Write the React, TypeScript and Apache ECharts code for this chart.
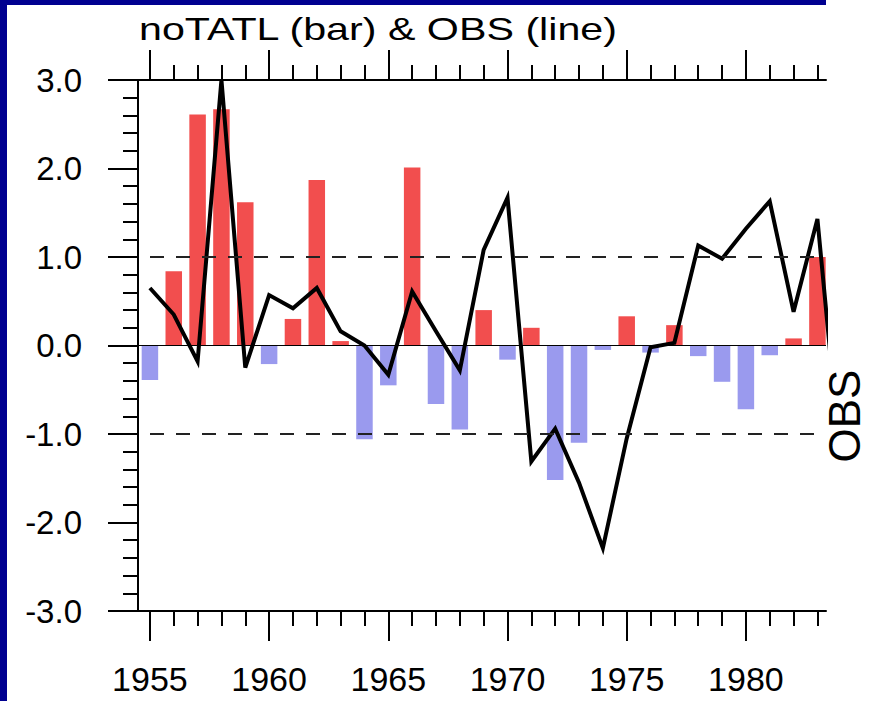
import React, { useEffect, useRef } from "react";
import * as echarts from "echarts";

// ---- data ----
const barYears = [
  1955, 1956, 1957, 1958, 1959, 1960, 1961, 1962, 1963, 1964,
  1965, 1966, 1967, 1968, 1969, 1970, 1971, 1972, 1973, 1974,
  1975, 1976, 1977, 1978, 1979, 1980, 1981, 1982, 1983,
];
const noTATL = [
  -0.39, 0.84, 2.61, 2.67, 1.62, -0.21, 0.3, 1.87, 0.05, -1.06,
  -0.45, 2.01, -0.66, -0.95, 0.4, -0.16, 0.2, -1.52, -1.1, -0.05,
  0.33, -0.08, 0.23, -0.12, -0.41, -0.72, -0.11, 0.08, 1.0,
];
const lineYears = [
  1955, 1956, 1957, 1958, 1959, 1960, 1961, 1962, 1963, 1964,
  1965, 1966, 1967, 1968, 1969, 1970, 1971, 1972, 1973, 1974,
  1975, 1976, 1977, 1978, 1979, 1980, 1981, 1982, 1983, 1984,
];
const obs = [
  0.65, 0.35, -0.18, 3.0, -0.25, 0.57, 0.42, 0.65, 0.16, 0.0,
  -0.33, 0.61, 0.16, -0.28, 1.08, 1.67, -1.31, -0.94, -1.55, -2.29,
  -1.05, -0.02, 0.03, 1.13, 0.98, 1.32, 1.63, 0.38, 1.43, -1.4,
];
const majorYearTicks = [1955, 1960, 1965, 1970, 1975, 1980];
const minorYearTicks = [
  1955, 1956, 1957, 1958, 1959, 1960, 1961, 1962, 1963, 1964,
  1965, 1966, 1967, 1968, 1969, 1970, 1971, 1972, 1973, 1974,
  1975, 1976, 1977, 1978, 1979, 1980, 1981, 1982, 1983,
];
const refLevels = [1, -1];
const titleText = "noTATL (bar) & OBS (line)";
const rightText = "OBS";

const X_MIN = 1954.5;
const X_MAX = 1983.36;
const FONT = '"Liberation Sans", Arial, Helvetica, sans-serif';
const RED = "#f24e4e";
const BLUE = "#9a9aee";
const NAVY = "#000090";

export default function App() {
  const ref = useRef<HTMLDivElement>(null);

  useEffect(() => {
    if (!ref.current) return;
    const chart = echarts.init(ref.current, undefined, { renderer: "svg" });

    const tickAxis = (position: string, values: number[], length: number, showLine: boolean) => ({
      type: "value",
      position,
      min: X_MIN,
      max: X_MAX,
      axisLine: { show: showLine, onZero: false, lineStyle: { color: "#000", width: 2 } },
      axisTick: {
        show: true,
        customValues: values,
        length,
        inside: false,
        lineStyle: { color: "#000", width: 2 },
      },
      axisLabel: { show: false },
      splitLine: { show: false },
    });

    const option: any = {
      animation: false,
      backgroundColor: "#ffffff",
      grid: { left: 138, top: 80, right: 44, bottom: 90, containLabel: false },
      xAxis: [
        {
          type: "value",
          position: "bottom",
          min: X_MIN,
          max: X_MAX,
          axisLine: { show: true, onZero: false, lineStyle: { color: "#000", width: 2 } },
          axisTick: {
            show: true,
            customValues: majorYearTicks,
            length: 30,
            lineStyle: { color: "#000", width: 2 },
          },
          axisLabel: {
            show: true,
            customValues: majorYearTicks,
            fontSize: 34,
            lineHeight: 34,
            fontFamily: FONT,
            color: "#000",
            margin: 51,
            formatter: (v: number) => String(Math.round(v)),
          },
          splitLine: { show: false },
        },
        tickAxis("bottom", minorYearTicks, 15, false),
        tickAxis("top", majorYearTicks, 30, true),
        tickAxis("top", minorYearTicks, 15, false),
      ],
      yAxis: {
        type: "value",
        position: "left",
        min: -3,
        max: 3,
        interval: 1,
        axisLine: { show: true, onZero: false, lineStyle: { color: "#000", width: 2 } },
        axisTick: { show: true, length: 30, lineStyle: { color: "#000", width: 2 } },
        minorTick: { show: true, splitNumber: 5, length: 15, lineStyle: { color: "#000", width: 2 } },
        axisLabel: {
          fontSize: 33,
          fontFamily: FONT,
          color: "#000",
          margin: 56,
          formatter: (v: number) => v.toFixed(1),
        },
        splitLine: { show: false },
      },
      series: [
        {
          type: "bar",
          xAxisIndex: 0,
          barWidth: 16.5,
          clip: true,
          data: barYears.map((y, i) => [y, noTATL[i]]),
          itemStyle: {
            color: (p: any) => (p.value[1] >= 0 ? RED : BLUE),
          },
          z: 2,
        },
        {
          type: "line",
          xAxisIndex: 0,
          data: lineYears.map((y, i) => [y, obs[i]]),
          showSymbol: false,
          symbol: "none",
          clip: true,
          lineStyle: { color: "#000", width: 4, join: "miter", miterLimit: 10, cap: "butt" },
          z: 4,
          markLine: {
            silent: true,
            symbol: ["none", "none"],
            label: { show: false },
            animation: false,
            data: [
              ...refLevels.map((lv) => ({
                yAxis: lv,
                lineStyle: { color: "#222", width: 1.8, type: [14, 12], dashOffset: 14 },
              })),
              { yAxis: 0, lineStyle: { color: "#000", width: 1.2, type: "solid" } },
            ],
          },
        },
      ],
      graphic: [
        {
          type: "rect",
          silent: true,
          z: 100,
          shape: { x: 0, y: 0, width: 7, height: 701 },
          style: { fill: NAVY },
        },
        {
          type: "rect",
          silent: true,
          z: 100,
          shape: { x: 0, y: 0, width: 826, height: 5 },
          style: { fill: NAVY },
        },
        {
          type: "text",
          silent: true,
          z: 100,
          x: 139,
          y: 29,
          scaleX: 1.33,
          style: {
            text: titleText,
            x: 0,
            y: 0,
            font: `31px ${FONT}`,
            fill: "#000",
            textAlign: "left",
            textVerticalAlign: "middle",
          },
        },
        {
          type: "text",
          silent: true,
          z: 100,
          x: 844,
          y: 416,
          rotation: Math.PI / 2,
          style: {
            text: rightText,
            x: 0,
            y: 0,
            font: `44px ${FONT}`,
            lineHeight: 36,
            fill: "#000",
            textAlign: "center",
            textVerticalAlign: "middle",
          },
        },
      ],
    };

    chart.setOption(option);
    return () => chart.dispose();
  }, []);

  return (
    <div
      ref={ref}
      style={{ position: "fixed", left: 0, top: 0, width: 870, height: 701 }}
    />
  );
}
